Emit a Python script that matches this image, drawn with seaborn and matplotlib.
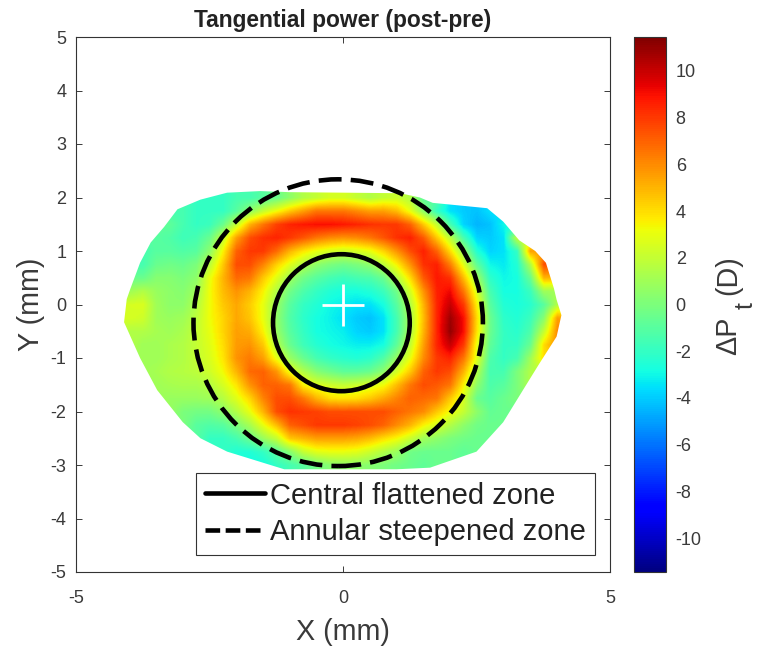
import numpy as np
import matplotlib
matplotlib.use("Agg")
import matplotlib.pyplot as plt
from matplotlib.lines import Line2D
from matplotlib.patches import Ellipse, Polygon
import seaborn as sns

# grid of the map, mm
x_step = 0.25
x_first, x_last = -4.0, 4.0
y_first, y_last = 2.0, -3.0

# power change per row, top row first, start = column of the first valid cell
row_start = [7, 4, 3, 2, 1, 1, 1, 0, 0, 0, 0, 1, 1, 2, 2, 3, 4, 5, 6, 8, 9]
row_p200 = [-2, -1.5, -1.5, -1, -0.5, 0.5, 1.5, 2, 2.5, 2.5, 2, 1.5, 2, 2.2, 1.5, -1]
row_p175 = [-1.5, -2, -2, -2, -1, 0.5, 2, 3.2, 4.5, 5.5, 6.5, 6.5, 6.5, 6, 5.5, 5.5, 4.8, 3, 0.5, -2, -3.5, -4, -4.2, -3.5]
row_p150 = [-0.8, -1.5, -2, -1.8, -0.5, 2, 5, 6.5, 7.8, 8.5, 8.8, 9, 9, 8.8, 8.5, 8.2, 8, 8, 7, 4.5, 2, -1.5, -3.8, -4.5, -4.2, -3]
row_p125 = [-1, -1.2, -1.7, -1.5, -0.5, 2, 5.5, 7.5, 8.2, 8.5, 8, 7.3, 6.5, 6, 5.8, 6, 6.5, 7.3, 8.2, 8.6, 7.2, 4.5, 1.8, -1.5, -3.8, -4, -3.5, 2]
row_p100 = [-1.5, -1, -1, -1.2, -1, 0.5, 3.5, 7, 8, 8, 6.8, 5, 3.8, 3, 2.5, 2.2, 2.5, 3, 4.2, 5.8, 7.5, 8.6, 7, 4, 0.8, -2.5, -3.8, -3.5, -2, 5.5]
row_p075 = [-1.5, -0.5, -0.3, -0.5, 0, 1.8, 4.5, 7.5, 7.5, 6.2, 4.3, 2.8, 1.5, 0.5, 0, -0.3, 0, 0.5, 1.8, 3.5, 5.8, 8.2, 8.6, 6.3, 2.8, -0.8, -3, -3.3, -2.5, 1.5, 7.5]
row_p050 = [-0.5, 0.3, 0.3, 0, 0.5, 3, 5, 6.8, 6.5, 4.5, 2.8, 1, -0.3, -1, -1.5, -1.8, -1.5, -1.3, -0.5, 1.5, 4, 7.2, 8.8, 8.2, 4.8, 1, -2.2, -3, -2.8, -0.5, 5]
row_p025 = [1, 1.5, 0.8, 0.5, 0.3, 1, 3.2, 4.8, 5.8, 5, 3.5, 1.5, -0.3, -1.3, -2, -2.5, -2.8, -2.8, -2.5, -1.8, -0.3, 2.5, 5.8, 8.6, 9.2, 6.5, 2.5, -1.5, -2.8, -2.8, -1.8, 1]
row_000 = [2.5, 2.6, 1, 0.5, 0.5, 1.5, 3.2, 4.5, 5.3, 4.4, 3, 0.8, -1, -2, -2.5, -3, -3.2, -3.5, -3.5, -2.8, -1, 1.5, 5, 8.5, 10, 8, 3.5, -1, -2.5, -2.7, -2.3, -1, 1.5]
row_m025 = [2.5, 2.3, 1, 0.8, 1, 1.8, 3.2, 4.2, 5.3, 4.6, 3, 0.6, -1.2, -2.2, -2.8, -3.1, -3.5, -4, -4.2, -3.5, -1.5, 1.2, 4.8, 8.5, 10.8, 9, 4, -0.5, -2.2, -2.5, -1.8, 0.3, 5.5]
row_m050 = [1.5, 1.5, 1.2, 1, 1.3, 2, 3, 4.2, 5.5, 5.2, 3.5, 0.8, -1, -2, -2.8, -3, -3.2, -3.8, -4, -3.5, -1.5, 1.3, 5, 8.5, 11, 9, 3.8, -0.5, -2, -2.3, -1.3, 2, 6]
row_m075 = [1, 1, 1.3, 1.5, 2, 2.8, 4, 5.6, 5.8, 4.5, 1.5, -0.5, -1.7, -2.4, -2.8, -3, -3.2, -3.2, -2.8, -0.8, 2, 5.5, 8.5, 10, 8, 3, -0.8, -2, -2, -0.5, 4]
row_m100 = [1, 1, 1.3, 1.5, 2, 2.6, 3.8, 5.8, 6.4, 5.5, 3, 0.8, -0.5, -1.5, -2, -2.3, -2.5, -2.2, -1.2, 0.8, 3, 6, 8, 8.5, 6.5, 2.8, -1.3, -2, -1.5, 1]
row_m125 = [1.2, 1.5, 1.6, 1.8, 2.3, 3.3, 5, 6.8, 7, 5.8, 3, 1.5, 0.3, -0.3, -0.8, -0.8, -0.5, 0.5, 2.5, 4.5, 7, 8, 7.5, 5, 1.5, -1.5, -1.5, 0, 1.5]
row_m150 = [1, 1.2, 1.3, 1.3, 1.6, 2.5, 3.8, 5.8, 7, 7, 6.5, 3.5, 2.7, 2.3, 2, 2.2, 2.6, 3.2, 4.8, 6.5, 7.5, 7.2, 6.5, 3.5, 0.5, -1.3, -1, 0]
row_m175 = [0.8, 0.8, 0.8, 1, 1.6, 2.8, 4.2, 6.2, 7.5, 7.5, 6.5, 5, 4, 3.8, 4, 4.5, 5.3, 6.2, 7, 6.8, 6.5, 4.5, 2.5, -0.5, -1, -0.5]
row_m200 = [0, -0.2, -0.2, 0.5, 1.5, 3, 5, 7.5, 8.2, 8, 7.8, 7.5, 7.5, 7.5, 7.5, 7.5, 7, 6.5, 6, 4.5, 3.2, 2, 0.5, -0.7, -0.5]
row_m225 = [-1, -1.2, -1, 0, 1.2, 3, 4.8, 7, 7.5, 8, 8, 8, 7.8, 7.5, 7, 6, 5, 3.5, 2.5, 1.5, 0.5, -0.3, -0.5]
row_m250 = [-2, -2, -1.5, -0.5, 0.8, 2, 4.5, 5, 5.5, 5.5, 5.5, 5.3, 4.8, 4, 3.3, 2.2, 1, 0.5, 0, -0.3, -0.5]
row_m275 = [-2.5, -2.5, -2, -1, 0.3, 2, 2.8, 3, 3, 2.8, 2.2, 1.5, 0.8, -0.3, -0.5, -0.5, -0.5, -0.8]
row_m300 = [-3, -2.8, -2, -1.5, -1, -0.2, 0.3, 0.5, 0.5, 0.3, 0, -0.3, -0.5, -0.8]
rows = [row_p200, row_p175, row_p150, row_p125, row_p100, row_p075, row_p050, row_p025,
        row_000, row_m025, row_m050, row_m075, row_m100, row_m125, row_m150, row_m175,
        row_m200, row_m225, row_m250, row_m275, row_m300]

# edge of the measured area, mm
outline_x = [-4.1, -4.05, -3.98, -3.8, -3.6, -3.35, -3.1, -2.67, -2.17, -1.55, -1.0, 1.07, 1.44, 1.68,
             2.7, 3.0, 3.3, 3.6, 3.8, 3.95, 4.0, 4.09, 4.0, 3.68, 3.37, 3.0, 2.5, 1.63, 1.0, -1.1,
             -2.17, -2.67, -3.0, -3.48, -3.8]
outline_y = [-0.33, 0.1, 0.3, 0.78, 1.16, 1.45, 1.78, 1.96, 2.09, 2.12, 2.1, 2.08, 2.0, 1.9,
             1.8, 1.55, 1.2, 1.0, 0.78, 0.3, 0.09, -0.2, -0.6, -1.1, -1.6, -2.2, -2.75, -3.05, -3.08, -3.08,
             -2.75, -2.5, -2.2, -1.6, -1.0]

# zones fitted on the map, mm
flat_center = (-0.03, -0.34)
flat_radius = (1.28, 1.28)
steep_center = (-0.09, -0.34)
steep_radius = (2.71, 2.68)
apex = (0, 0)

tick_x = [-5, 0, 5]
tick_y = [-5, -4, -3, -2, -1, 0, 1, 2, 3, 4, 5]
tick_cbar = [-10, -8, -6, -4, -2, 0, 2, 4, 6, 8, 10]
p_limit = 11.45

n_cols = int(round((x_last - x_first) / x_step)) + 1
grid = np.full((len(rows), n_cols), np.nan)
for r, vals in enumerate(rows):
    grid[r, row_start[r]:row_start[r] + len(vals)] = vals

# empty cells take the nearest value so the smoothing reaches the outline
shown = grid.copy()
good = np.argwhere(~np.isnan(grid))
for r, c in np.argwhere(np.isnan(grid)):
    d = ((good - [r, c]) ** 2).sum(axis=1)
    shown[r, c] = grid[tuple(good[d.argmin()])]

sns.set_theme(style="white")
plt.rcParams["font.family"] = ["Liberation Sans", "DejaVu Sans"]
TEXT = "#3a3a3a"
W, H = 757, 650

fig = plt.figure(figsize=(W / 100, H / 100), dpi=100)
ax = fig.add_axes([76 / W, 1 - 572 / H, 534 / W, 535 / H])
cax = fig.add_axes([634 / W, 1 - 572 / H, 32 / W, 535 / H])

sns.heatmap(grid, cmap="jet", vmin=-p_limit, vmax=p_limit, ax=ax, cbar_ax=cax,
            xticklabels=False, yticklabels=False)
# keep the heatmap for the colorbar, show the same cells smoothed in mm
ax.collections[0].set_visible(False)
half = x_step / 2
im = ax.imshow(shown, cmap="jet", vmin=-p_limit, vmax=p_limit, aspect="auto", interpolation="bilinear",
               extent=[x_first - half, x_last + half, y_last - half, y_first + half])
im.set_clip_path(Polygon(np.column_stack([outline_x, outline_y]), transform=ax.transData))

ax.add_patch(Ellipse(flat_center, 2 * flat_radius[0], 2 * flat_radius[1], fill=False,
                     ec="black", lw=3.3))
ax.add_patch(Ellipse(steep_center, 2 * steep_radius[0], 2 * steep_radius[1], fill=False,
                     ec="black", lw=3.3, ls=(0, (5, 2))))
ax.plot(apex[0], apex[1], marker="+", ms=30, mew=2, color="white", ls="none")

ax.set_xlim(-5, 5)
ax.set_ylim(-5, 5)
ax.set_xticks(tick_x)
ax.set_yticks(tick_y)
ax.set_xticklabels([str(t) for t in tick_x])
ax.set_yticklabels([str(t) for t in tick_y])
ax.tick_params(direction="in", length=4, width=0.7, top=True, right=True, bottom=True, left=True,
               labelsize=13, colors=TEXT)
ax.tick_params(axis="x", pad=13)
ax.tick_params(axis="y", pad=7)
for s in ax.spines.values():
    s.set_visible(True)
    s.set_color("#333333")
    s.set_linewidth(0.8)

ax.set_xlabel("X (mm)", fontsize=20.7, color=TEXT, labelpad=8)
ax.set_ylabel("Y (mm)", fontsize=20.7, color=TEXT, labelpad=4)
ax.set_title("Tangential power (post-pre)", fontsize=16.4, fontweight="bold", color="#222222", pad=7.5)

handles = [Line2D([], [], color="black", lw=3.3),
           Line2D([], [], color="black", lw=3.3, ls=(0, (3.2, 1.2)))]
leg = ax.legend(handles, ["Central flattened zone", "Annular steepened zone"],
                loc="lower left", bbox_to_anchor=(120 / 534, 17 / 535), fontsize=21, frameon=True,
                framealpha=1, fancybox=False, edgecolor="#333333", borderaxespad=0, borderpad=0.3,
                handlelength=2.05, handletextpad=0.2, labelspacing=0.3, labelcolor="#222222")
leg.get_frame().set_linewidth(0.8)

cbar = ax.collections[0].colorbar
cbar.set_ticks(tick_cbar)
cbar.set_ticklabels([str(t) for t in tick_cbar])
cax.tick_params(direction="in", length=3, width=0.7, labelsize=13, colors=TEXT, right=True, left=False, pad=7)
cbar.outline.set_visible(True)
cbar.outline.set_edgecolor("#333333")
cbar.outline.set_linewidth(0.8)

# colorbar label in three pieces, the subscript sits far below the line
fig.text(728 / W, 1 - 355 / H, "ΔP", rotation=90, fontsize=20.7, color=TEXT, ha="center", va="bottom")
fig.text(746 / W, 1 - 306 / H, "t", rotation=90, fontsize=18, color=TEXT, ha="center", va="center")
fig.text(728 / W, 1 - 255 / H, "(D)", rotation=90, fontsize=20.7, color=TEXT, ha="center", va="top")

fig.savefig("out.png", dpi=100)
